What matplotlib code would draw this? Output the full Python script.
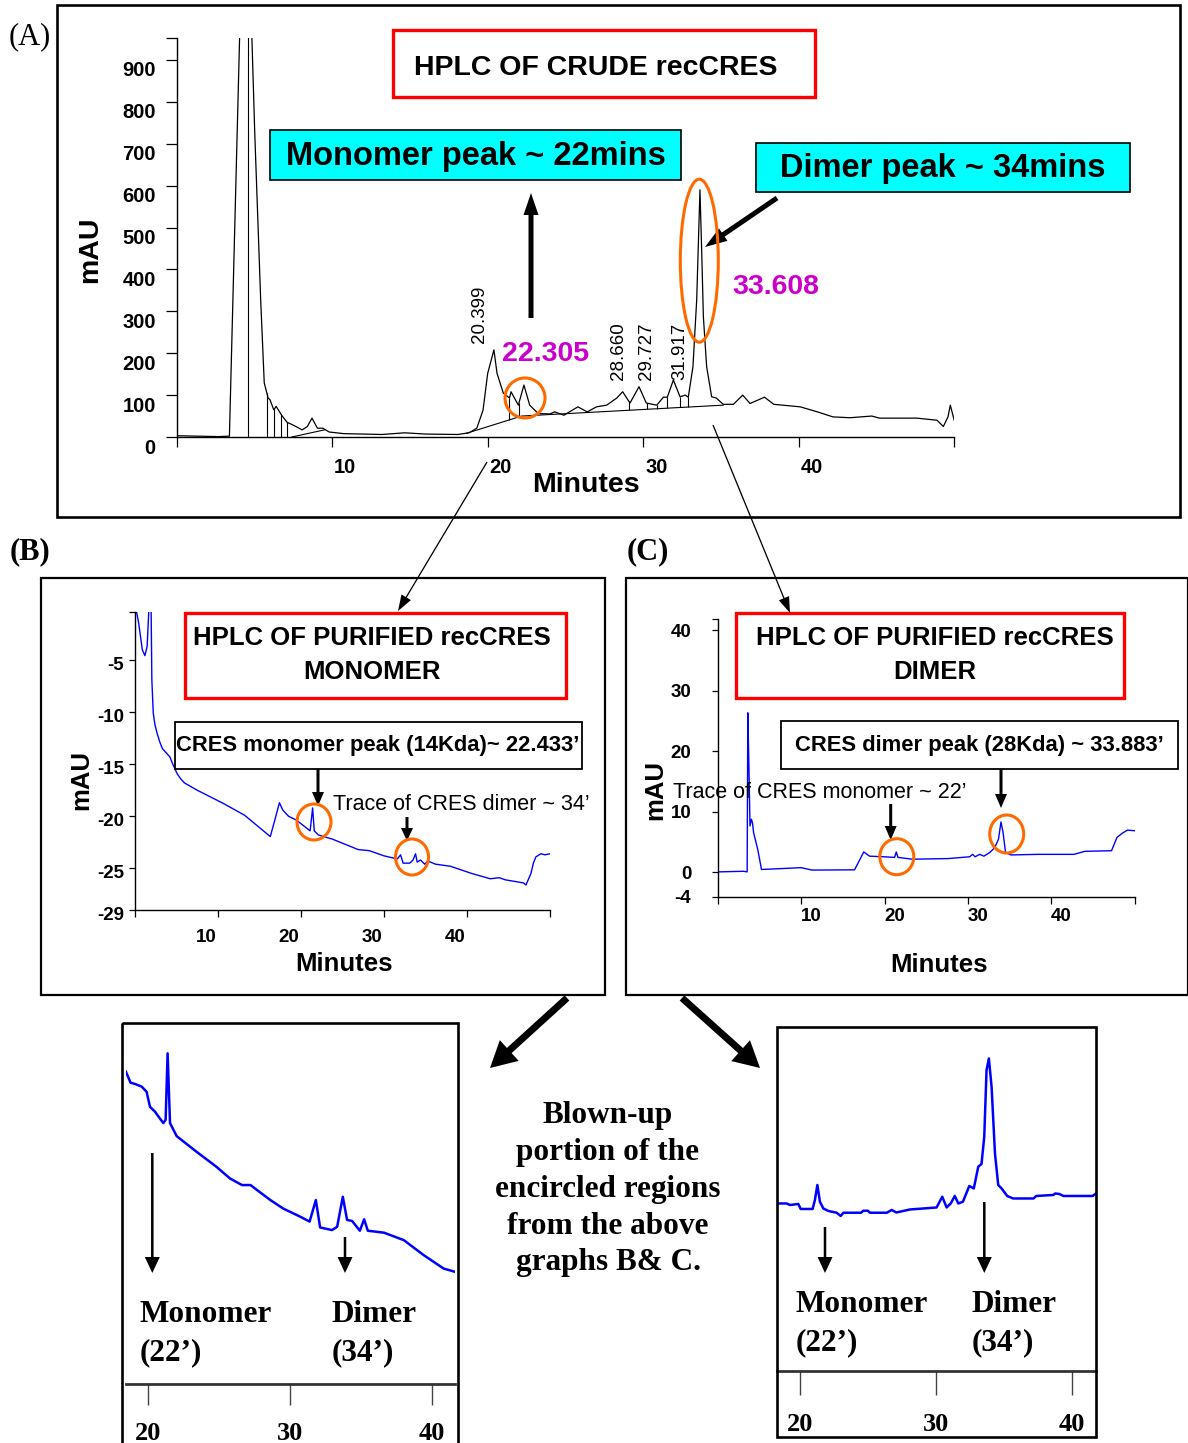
import numpy as np
import matplotlib
matplotlib.use('Agg')
import matplotlib.pyplot as plt
from matplotlib.patches import Rectangle, Ellipse
from matplotlib.transforms import ScaledTranslation

plt.rcParams['font.family'] = ['Liberation Sans', 'DejaVu Sans']
SERIF = ['Liberation Serif', 'DejaVu Serif']

W, H = 1188, 1443

# ---------------- data ----------------
# (A) HPLC of crude recCRES: time (min) / absorbance (mAU)
crude_t = [0.0, 2.7, 3.39, 4.05, 4.83, 5.02, 5.4, 5.63, 5.88, 6.0,
           6.24, 6.4, 6.73, 7.1, 7.46, 8.07, 8.4, 8.7, 9.05, 9.4,
           9.8, 10.75, 13.2, 14.66, 16.0, 18.07, 18.8, 19.3, 19.7, 20.0,
           20.4, 20.6, 21.0, 21.4, 21.5, 21.97, 22.33, 22.7, 23.25, 24.0,
           24.3, 24.9, 25.8, 26.4, 27.0, 27.65, 28.3, 28.68, 29.15, 29.73,
           30.2, 30.87, 31.3, 31.55, 31.94, 32.37, 32.7, 32.9, 33.2, 33.44,
           33.65, 33.76, 33.87, 34.08, 34.4, 34.7, 35.15, 35.8, 36.4, 36.87,
           37.8, 38.4, 40.1, 41.2, 42.2, 43.3, 44.7, 45.2, 47.6, 48.9,
           49.3, 49.6, 49.75, 50.0]
crude_mau = [3, 1, 2, 960, 960, 725, 328, 129, 93, 89,
             65, 73, 53, 35, 29, 17, 25, 45, 21, 21,
             12, 8, 6, 10, 7, 6, 10, 21, 64, 152,
             208, 152, 105, 93, 108, 76, 124, 76, 56, 55,
             60, 52, 72, 60, 72, 76, 93, 108, 81, 120,
             81, 76, 95, 95, 136, 96, 100, 95, 168, 327,
             590, 446, 287, 168, 96, 93, 78, 78, 100, 80,
             95, 78, 72, 60, 48, 46, 50, 45, 45, 40,
             25, 48, 76, 40]
front_base_t = [7.4, 9.5]
front_base_mau = [0, 17]
crude_base_t = [18.65, 22.18, 35.15]
crude_base_mau = [9, 50, 76]
drop_t = [4.6, 5.8, 6.27, 6.68, 7.12, 21.39, 22.0, 29.08, 30.22, 30.9, 31.5, 32.37, 32.86]
peak_labels = ['20.399', '28.660', '29.727', '31.917']
peak_label_t = [19.5, 28.38, 30.24, 32.37]
peak_label_mau = [224, 136, 136, 136]

# (B) purified monomer (blue trace)
mono_t = [0.1, 0.44, 0.88, 1.19, 1.46, 1.68, 1.94, 2.03, 2.2, 2.4,
          2.65, 3.0, 3.3, 3.75, 4.2, 4.5, 5.07, 5.5, 5.96, 7.5,
          10.6, 13.2, 16.3, 16.8, 17.4, 17.8, 18.5, 19.4, 20.3, 21.1,
          21.4, 21.6, 22.1, 23.8, 26.9, 28.2, 30.0, 31.6, 32.0, 32.3,
          33.1, 33.5, 33.8, 34.0, 34.4, 34.9, 35.3, 36.2, 38.0, 40.6,
          42.8, 43.9, 44.6, 46.8, 47.1, 47.7, 48.0, 48.3, 48.9, 49.4,
          50.0]
mono_mau = [0.0, -1.44, -4.0, -4.58, -3.7, 0.0, 0.0, -6.9, -10.1, -11.2,
            -12.0, -12.9, -13.5, -13.9, -14.3, -14.9, -15.9, -16.4, -16.8, -17.5,
            -18.75, -19.9, -21.95, -20.5, -18.7, -19.4, -20.0, -20.35, -20.9, -21.4,
            -19.2, -21.4, -21.8, -22.2, -23.2, -23.3, -23.8, -24.1, -23.7, -24.5,
            -24.5, -24.2, -23.6, -24.4, -24.2, -24.6, -24.3, -24.6, -24.8, -25.5,
            -26.0, -25.9, -26.1, -26.4, -26.6, -25.5, -24.5, -23.9, -23.6, -23.7,
            -23.6]

# (C) purified dimer (blue trace)
dimer_t = [0, 3.1, 3.53, 3.61, 3.74, 3.87, 4.04, 4.17, 4.3, 4.8,
           5.25, 6.1, 10.0, 11.3, 16.4, 17.1, 17.5, 18.2, 19.9, 21.2,
           21.4, 21.6, 23.3, 27.6, 30.2, 30.55, 30.85, 31.4, 31.9, 32.6,
           33.2, 33.65, 33.95, 34.2, 34.5, 35.15, 38.4, 42.7, 44.0, 47.2,
           47.85, 48.5, 49.1, 50.0]
dimer_mau = [0.1, 0.2, 0.1, 26.4, 17.6, 7.7, 8.8, 8.2, 6.6, 3.8,
             0.5, 0.55, 0.8, 0.4, 0.44, 2.3, 3.4, 2.7, 2.6, 2.5,
             3.4, 2.5, 2.2, 2.3, 2.6, 3.0, 2.6, 3.0, 2.7, 3.3,
             4.1, 5.5, 8.35, 6.6, 3.3, 2.9, 3.0, 3.0, 3.5, 3.6,
             5.8, 6.5, 7.0, 6.9]

# blown-up views of B and C
mz_t = [18.42, 18.75, 19.06, 19.53, 19.88, 20.12, 20.47, 20.82, 21.06, 21.22,
        21.36, 21.53, 22.0, 23.4, 24.8, 25.76, 26.6, 27.2, 27.65, 28.6,
        29.5, 30.7, 31.36, 31.8, 32.1, 32.94, 33.3, 33.7, 34.0, 34.35,
        34.9, 35.2, 35.46, 36.6, 38.0, 39.4, 40.8, 41.6]
mz_mau = [-19.52, -19.86, -19.9, -19.98, -20.14, -20.6, -20.75, -20.96, -21.1, -21.0,
          -18.96, -21.1, -21.5, -21.98, -22.44, -22.8, -23.0, -23.0, -23.15, -23.46,
          -23.72, -23.97, -24.12, -23.46, -24.3, -24.38, -24.28, -23.36, -24.07, -24.1,
          -24.4, -24.05, -24.4, -24.46, -24.69, -25.15, -25.56, -25.66]
dz_t = [18.33, 19.02, 19.26, 19.88, 20.05, 20.93, 21.1, 21.28, 21.47, 21.72,
        22.09, 22.7, 23.0, 23.2, 24.5, 24.66, 25.0, 25.15, 26.4, 26.75,
        27.1, 28.1, 29.08, 30.06, 30.48, 30.8, 31.1, 31.4, 31.66, 32.0,
        32.47, 32.8, 33.13, 33.37, 33.57, 33.74, 33.91, 34.11, 34.36, 34.6,
        34.85, 35.26, 35.7, 37.2, 37.4, 38.65, 38.8, 39.1, 39.4, 41.55,
        41.8]
dz_mau = [2.57, 2.57, 2.51, 2.55, 2.35, 2.35, 2.71, 3.31, 2.64, 2.37,
          2.27, 2.2, 2.07, 2.2, 2.2, 2.28, 2.28, 2.2, 2.2, 2.31,
          2.21, 2.33, 2.37, 2.41, 2.84, 2.41, 2.57, 2.87, 2.57, 2.64,
          3.27, 3.17, 4.04, 4.15, 5.24, 7.91, 8.37, 7.24, 4.57, 3.31,
          3.17, 2.87, 2.77, 2.77, 2.87, 2.91, 2.97, 2.95, 2.87, 2.87,
          2.97]

fig = plt.figure(figsize=(W / 100, H / 100), dpi=100)


def px_axes(x0, y0, x1, y1):
    return fig.add_axes([x0 / W, 1 - y1 / H, (x1 - x0) / W, (y1 - y0) / H])


def shift_labels(labels, dx=0, dy=0):
    off = ScaledTranslation(dx / 100, -dy / 100, fig.dpi_scale_trans)
    for lab in labels:
        lab.set_transform(lab.get_transform() + off)
        lab.set_fontweight('bold')


def style_axes(ax, size, xpad, ypad, xlen, ylen, xshift, yshift=0):
    for s in ['top', 'right']:
        ax.spines[s].set_visible(False)
    for s in ['left', 'bottom']:
        ax.spines[s].set_linewidth(1.0)
    ax.patch.set_alpha(0)
    ax.tick_params(axis='x', direction='out', length=xlen, width=0.9, pad=xpad, labelsize=size)
    ax.tick_params(axis='y', direction='out', length=ylen, width=0.9, pad=ypad, labelsize=size)
    shift_labels(ax.get_xticklabels(), dx=xshift)
    shift_labels(ax.get_yticklabels(), dy=yshift)


# ---------------- panel A ----------------
axA = px_axes(176.7, 37.7, 954.2, 437)
axA.plot(crude_t, crude_mau, color='black', lw=0.9)
axA.plot(front_base_t, front_base_mau, color='black', lw=0.8)
axA.plot(crude_base_t, crude_base_mau, color='black', lw=0.8)
for t in drop_t:
    if crude_base_t[0] <= t <= crude_base_t[-1]:
        lo = np.interp(t, crude_base_t, crude_base_mau)
    else:
        lo = 0
    axA.vlines(t, lo, np.interp(t, crude_t, crude_mau), color='black', lw=0.8)
for lab, x, y in zip(peak_labels, peak_label_t, peak_label_mau):
    axA.text(x, y, lab, rotation=90, ha='center', va='bottom', fontsize=13.5)
axA.set_xlim(0, 50)
axA.set_ylim(0, 953)
axA.set_xticks([0, 10, 20, 30, 40, 50], ['', '10', '20', '30', '40', ''])
axA.set_yticks(list(range(0, 1000, 100)) + [953],
               [str(v) for v in range(0, 1000, 100)] + [''])
style_axes(axA, 14.5, xpad=8, ypad=7, xlen=7, ylen=8, xshift=13, yshift=9)

# ---------------- panel B ----------------
axB = px_axes(135, 611.7, 550, 910)
axB.plot(mono_t, mono_mau, color='#0000FF', lw=1.0)
axB.set_xlim(0, 50)
axB.set_ylim(-29, -0.36)
axB.set_xticks([0, 10, 20, 30, 40, 50], ['', '10', '20', '30', '40', ''])
axB.set_yticks([-29, -25, -20, -15, -10, -5, -0.36], ['-29', '-25', '-20', '-15', '-10', '-5', ''])
style_axes(axB, 13.5, xpad=9, ypad=3.5, xlen=5, ylen=4.5, xshift=-12, yshift=3)

# ---------------- panel C ----------------
axC = px_axes(717.7, 619, 1134.9, 896.7)
axC.plot(dimer_t, dimer_mau, color='#0000FF', lw=1.0)
axC.set_xlim(0, 50)
axC.set_ylim(-4, 41.9)
axC.set_xticks([0, 10, 20, 30, 40, 50], ['', '10', '20', '30', '40', ''])
axC.set_yticks([-4, 0, 10, 20, 30, 40, 41.9], ['-4', '0', '10', '20', '30', '40', ''])
style_axes(axC, 13.5, xpad=3, ypad=15, xlen=5, ylen=4, xshift=10)


# ---------------- blown-up views ----------------
def blow_axes(box, t, v, xlim, ylim, tlen, pad):
    ax = px_axes(*box)
    ax.plot(t, v, color='#0000FF', lw=1.8)
    ax.set_xlim(*xlim)
    ax.set_ylim(*ylim)
    for s in ['top', 'right', 'left']:
        ax.spines[s].set_visible(False)
    ax.spines['bottom'].set_linewidth(2)
    ax.spines['bottom'].set_color('#333333')
    ax.set_yticks([])
    ax.set_xticks([20, 30, 40])
    ax.tick_params(axis='x', direction='out', length=tlen, width=1, color='#444444', pad=pad)
    for lab in ax.get_xticklabels():
        lab.set_fontfamily(SERIF)
        lab.set_fontweight('bold')
        lab.set_fontsize(19)
    ax.patch.set_alpha(0)
    return ax


blow_axes((126, 1023.3, 455, 1384), mz_t, mz_mau, (18.43, 41.6), (-29.1, -18.04), 15, 12)
blow_axes((777.3, 1026.7, 1096, 1371), dz_t, dz_mau, (18.33, 41.8), (-4.13, 9.64), 17, 13)

# ---------------- overlay: frames, boxes, arrows, text ----------------
ov = fig.add_axes([0, 0, 1, 1], zorder=10)
ov.set_xlim(0, W)
ov.set_ylim(H, 0)
ov.axis('off')
ov.patch.set_alpha(0)


def frame(x0, y0, x1, y1, ec='black', lw=1.5, fc='none'):
    ov.add_patch(Rectangle((x0, y0), x1 - x0, y1 - y0, fill=(fc != 'none'),
                           facecolor=fc, edgecolor=ec, lw=lw))


def arrow(x0, y0, x1, y1, w=2, hw=12, hl=14):
    ov.arrow(x0, y0, x1 - x0, y1 - y0, width=w, head_width=hw, head_length=hl,
             length_includes_head=True, color='black', lw=0)


def ring(x, y, rx, ry):
    ov.add_patch(Ellipse((x, y), 2 * rx, 2 * ry, fill=False, edgecolor='#FF6A00', lw=2.2))


# panel frames
frame(57, 5, 1180, 517, lw=1.9)
frame(41, 578, 605, 995, lw=1.6)
frame(626, 578, 1188, 995, lw=1.6)
frame(121.7, 1023.3, 458, 1460, lw=1.9)
frame(777.3, 1026.7, 1096, 1436.7, lw=1.9)

# panel letters
ov.text(30, 37, '(A)', family=SERIF, fontsize=22, ha='center', va='center')
ov.text(30, 552, '(B)', family=SERIF, fontsize=22, fontweight='bold', ha='center', va='center')
ov.text(648, 552, '(C)', family=SERIF, fontsize=22, fontweight='bold', ha='center', va='center')

# panel A annotations
frame(393, 30, 815, 97, ec='#FF0000', lw=2.4)
ov.text(596, 68, 'HPLC OF CRUDE recCRES', fontsize=20.5, fontweight='bold', ha='center', va='center')
frame(270, 130, 681, 180, ec='black', lw=1.2, fc='#00FFFF')
ov.text(476, 157, 'Monomer peak ~ 22mins', fontsize=23.5, fontweight='bold', ha='center', va='center')
frame(756, 143, 1130, 192, ec='black', lw=1.2, fc='#00FFFF')
ov.text(943, 168, 'Dimer peak ~ 34mins', fontsize=23.5, fontweight='bold', ha='center', va='center')
arrow(531, 318, 531, 193, w=5, hw=15, hl=22)
arrow(777, 198, 705, 247, w=5, hw=15, hl=22)
ov.text(546, 354, '22.305', color='#CC00CC', fontsize=20.5, fontweight='bold', ha='center', va='center')
ov.text(776, 287, '33.608', color='#CC00CC', fontsize=20.5, fontweight='bold', ha='center', va='center')
ring(525, 398, 20, 20)
ring(699.3, 260.7, 19, 81.5)
ov.text(90, 250, 'mAU', fontsize=20.5, fontweight='bold', rotation=90, ha='center', va='center')
ov.text(586, 485, 'Minutes', fontsize=20.5, fontweight='bold', ha='center', va='center')

# connectors A -> B, A -> C
arrow(487, 462, 398, 611, w=1.3, hw=11, hl=16)
arrow(713, 425, 790, 613, w=1.3, hw=11, hl=16)

# panel B annotations
frame(184.7, 613, 565.6, 698, ec='#FF0000', lw=2.4)
ov.text(372, 638, 'HPLC OF PURIFIED recCRES', fontsize=18.5, fontweight='bold', ha='center', va='center')
ov.text(372, 672, 'MONOMER', fontsize=18.5, fontweight='bold', ha='center', va='center')
frame(174.8, 721.7, 582, 769, ec='black', lw=1.3)
ov.text(378, 745, 'CRES monomer peak (14Kda)~ 22.433\u2019', fontsize=15.8, fontweight='bold',
        ha='center', va='center')
arrow(318, 769, 318, 806, w=3, hw=12, hl=14)
ov.text(333, 804, 'Trace of CRES dimer ~ 34\u2019', fontsize=15.5, ha='left', va='center')
arrow(407, 817, 407, 841, w=3, hw=12, hl=13)
ring(314, 822, 17, 18)
ring(412, 857, 16.5, 18)
ov.text(81, 780, 'mAU', fontsize=18.5, fontweight='bold', rotation=90, ha='center', va='center')
ov.text(344, 964, 'Minutes', fontsize=18.5, fontweight='bold', ha='center', va='center')

# panel C annotations
frame(735.6, 613, 1124, 697.7, ec='#FF0000', lw=2.4)
ov.text(935, 638, 'HPLC OF PURIFIED recCRES', fontsize=18.5, fontweight='bold', ha='center', va='center')
ov.text(935, 672, 'DIMER', fontsize=18.5, fontweight='bold', ha='center', va='center')
frame(780.5, 721, 1178, 769, ec='black', lw=1.3)
ov.text(979, 745, 'CRES dimer peak (28Kda) ~ 33.883\u2019', fontsize=15.8, fontweight='bold',
        ha='center', va='center')
arrow(1001, 769, 1001, 808, w=3, hw=12, hl=14)
ov.text(673, 792, 'Trace of CRES monomer ~ 22\u2019', fontsize=15.5, ha='left', va='center')
arrow(890.7, 804, 890.7, 840, w=3, hw=12, hl=14)
ring(896.8, 856.7, 17, 18)
ring(1006.7, 834, 17, 19)
ov.text(655, 790, 'mAU', fontsize=18.5, fontweight='bold', rotation=90, ha='center', va='center')
ov.text(939, 965, 'Minutes', fontsize=18.5, fontweight='bold', ha='center', va='center')

# big arrows to the blown-up views
arrow(567, 998, 490, 1068, w=7, hw=28, hl=26)
arrow(682, 998, 760, 1068, w=7, hw=28, hl=26)

# blown-up annotations
blurb = ['Blown-up', 'portion of the', 'encircled regions', 'from the above', 'graphs B& C.']
for i, line in enumerate(blurb):
    ov.text(608, 1116 + 36.7 * i, line, family=SERIF, fontsize=22.5, fontweight='bold',
            ha='center', va='center')

arrow(152.3, 1153, 152.3, 1273, w=2.5, hw=15, hl=16)
arrow(345, 1237, 345, 1273, w=2.5, hw=15, hl=16)
arrow(825, 1227, 825, 1273, w=2.5, hw=15, hl=16)
arrow(984.3, 1202, 984.3, 1273, w=2.5, hw=15, hl=16)

for x, y, top, bottom in [(140, 1315, 'Monomer', '(22\u2019)'), (331.7, 1315, 'Dimer', '(34\u2019)'),
                          (796, 1305, 'Monomer', '(22\u2019)'), (971.7, 1305, 'Dimer', '(34\u2019)')]:
    ov.text(x, y, top, family=SERIF, fontsize=22.5, fontweight='bold', ha='left', va='center')
    ov.text(x, y + 38, bottom, family=SERIF, fontsize=22.5, fontweight='bold', ha='left', va='center')

fig.savefig('out.png', dpi=100)
